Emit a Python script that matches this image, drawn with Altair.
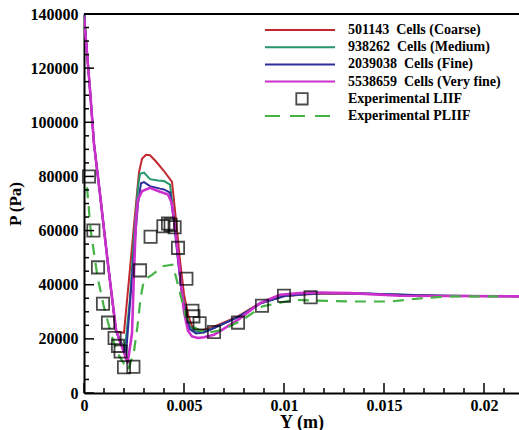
import altair as alt
import pandas as pd

# ---- data -------------------------------------------------------------
series_names = [
    "501143\u00a0 Cells (Coarse)",
    "938262\u00a0 Cells (Medium)",
    "2039038\u00a0 Cells (Fine)",
    "5538659\u00a0 Cells (Very fine)",
    "Experimental LIIF",
    "Experimental PLIIF",
]
series_colors = ["#c2272f", "#24976a", "#2e2e9c", "#cc2fcc", "#000000", "#45b345"]

coarse_y = [0, 0.0003, 0.0005, 0.0008, 0.0012, 0.0016, 0.0020, 0.00225, 0.0025, 0.00275,
            0.0029, 0.0031, 0.0033, 0.0036, 0.0040, 0.0044, 0.0046, 0.0048, 0.0050, 0.0052,
            0.0054, 0.0057, 0.0060, 0.0065, 0.0077, 0.0088, 0.0100, 0.0110, 0.0120, 0.0140,
            0.0160, 0.0180, 0.0218]
coarse_p = [140000, 112000, 92000, 73500, 47500, 22500, 22300, 42000, 62000, 81500,
            86500, 88000, 87800, 85500, 82000, 78000, 64000, 49000, 36500, 29000,
            24500, 23300, 23300, 24500, 28300, 33200, 35700, 36400, 36800, 36700,
            36200, 35800, 35700]

medium_y = [0, 0.0003, 0.0005, 0.0008, 0.0012, 0.0016, 0.0018, 0.00205, 0.0023, 0.0025,
            0.0027, 0.0028, 0.0030, 0.0033, 0.0037, 0.0040, 0.0043, 0.0045, 0.0047, 0.0049,
            0.0051, 0.0053, 0.0056, 0.0060, 0.0065, 0.0077, 0.0088, 0.0100, 0.0110, 0.0120,
            0.0140, 0.0160, 0.0180, 0.0218]
medium_p = [140000, 112000, 92000, 73500, 47500, 23000, 19500, 16500, 35000, 58000,
            76000, 81000, 81400, 79000, 78500, 78300, 77000, 65000, 50000, 37000,
            29000, 24500, 22600, 22800, 24000, 28000, 33000, 35800, 36500, 36900,
            36800, 36300, 35900, 35700]

fine_y = [0, 0.0003, 0.0005, 0.0008, 0.0012, 0.0016, 0.0018, 0.0021, 0.00225, 0.0025,
          0.0027, 0.00285, 0.0030, 0.0033, 0.0038, 0.0040, 0.0043, 0.0045, 0.0047, 0.0049,
          0.0051, 0.0053, 0.0056, 0.0060, 0.0065, 0.0077, 0.0088, 0.0100, 0.0110, 0.0120,
          0.0140, 0.0160, 0.0180, 0.0218]
fine_p = [140000, 112000, 92000, 73500, 47500, 23000, 19000, 14500, 28300, 52000,
          70000, 77500, 77900, 76400, 75500, 75200, 74000, 63000, 49000, 36000,
          28000, 23500, 22000, 22300, 24000, 28000, 33000, 35800, 36500, 36900,
          36800, 36300, 35900, 35700]

vfine_y = [0, 0.0003, 0.0005, 0.0008, 0.0012, 0.0016, 0.0018, 0.0020, 0.00218, 0.0024,
           0.0025, 0.0026, 0.0027, 0.0029, 0.0031, 0.0033, 0.0037, 0.0042, 0.0044, 0.0046,
           0.0048, 0.0050, 0.0052, 0.0054, 0.0057, 0.0060, 0.0065, 0.0077, 0.0088, 0.0098,
           0.0108, 0.0117, 0.0133, 0.0158, 0.0218]
vfine_p = [139000, 112000, 92000, 73500, 47500, 23500, 19000, 15000, 11000, 22000,
           45000, 64000, 71500, 74500, 75200, 75800, 74600, 73300, 70000, 58000,
           44000, 30000, 23000, 20900, 20300, 20600, 21500, 27000, 33200, 36300,
           36900, 37100, 36900, 35900, 35700]

liif_y = [0.00025, 0.00047, 0.0007, 0.00095, 0.0012, 0.00153, 0.0017, 0.00183, 0.0020,
          0.00247, 0.0028, 0.00333, 0.00397, 0.0042, 0.00433, 0.00453, 0.0047, 0.00512,
          0.00542, 0.00547, 0.00578, 0.0065, 0.0077, 0.0089, 0.0100, 0.01133]
liif_p = [80000, 60000, 46400, 33000, 26000, 20300, 17400, 15300, 9500,
          9700, 45300, 57700, 61600, 62600, 62100, 61200, 53600, 42200,
          30400, 28300, 25800, 22500, 26000, 32200, 35900, 35400]

pliif_y = [0.00015, 0.00033, 0.00067, 0.00099, 0.00134, 0.00167, 0.00209, 0.0022, 0.00249,
           0.00267, 0.00284, 0.0030, 0.00342, 0.00392, 0.00442, 0.00459, 0.00484, 0.00509,
           0.00542, 0.00609, 0.00692, 0.00792, 0.00892, 0.01049, 0.01334, 0.01534, 0.0170,
           0.01834, 0.0207]
pliif_p = [76000, 60400, 43100, 32000, 22200, 14800, 9700, 8500, 14800,
           24500, 35700, 41800, 43700, 46800, 47400, 43100, 35700, 28300,
           24600, 22100, 23300, 27000, 32000, 34400, 33800, 33800, 35100,
           35700, 35700]

x_major = [0, 0.005, 0.01, 0.015, 0.02]
x_minor = [0.001, 0.002, 0.003, 0.004, 0.006, 0.007, 0.008, 0.009, 0.011, 0.012,
           0.013, 0.014, 0.016, 0.017, 0.018, 0.019, 0.021]
y_major = [0, 20000, 40000, 60000, 80000, 100000, 120000, 140000]
y_minor = [5000, 10000, 15000, 25000, 30000, 35000, 45000, 50000, 55000, 65000, 70000,
           75000, 85000, 90000, 95000, 105000, 110000, 115000, 125000, 130000, 135000]

# ---- chart ------------------------------------------------------------
FONT = "Liberation Serif"
W, H = 435, 379

x_scale = alt.Scale(domain=[0, 0.02175], nice=False, zero=False)
y_scale = alt.Scale(domain=[0, 140000], nice=False, zero=False)

x_axis = alt.Axis(values=x_major, format="~g", ticks=False, grid=False,
                  domainColor="black", domainWidth=2, labelPadding=4,
                  labelFont=FONT, labelFontWeight="bold", labelFontSize=16,
                  labelColor="black", labelFlush=False, labelOverlap=False,
                  title="Y (m)", titleFont=FONT, titleFontWeight="bold",
                  titleFontSize=18, titleColor="black", titlePadding=0)
y_axis = alt.Axis(values=y_major, format="d", ticks=False, grid=False,
                  domainColor="black", domainWidth=2, labelPadding=6,
                  labelFont=FONT, labelFontWeight="bold", labelFontSize=16,
                  labelColor="black", labelFlush=False, labelOverlap=False,
                  title="P (Pa)", titleFont=FONT, titleFontWeight="bold",
                  titleFontSize=17, titleColor="black", titlePadding=6)

X_ENC = dict(scale=x_scale, axis=x_axis)
Y_ENC = dict(scale=y_scale, axis=y_axis)


def line_layer(ys, ps, color, width, dash=None):
    df = pd.DataFrame({"y": ys, "p": ps})
    kw = dict(color=color, strokeWidth=width, clip=True)
    if dash:
        kw["strokeDash"] = dash
    return alt.Chart(df).mark_line(**kw).encode(
        x=alt.X("y:Q", **X_ENC),
        y=alt.Y("p:Q", **Y_ENC),
    )


lines = [
    line_layer(coarse_y, coarse_p, series_colors[0], 2),
    line_layer(medium_y, medium_p, series_colors[1], 2),
    line_layer(fine_y, fine_p, series_colors[2], 2),
    line_layer(vfine_y, vfine_p, series_colors[3], 2.6),
    line_layer(pliif_y, pliif_p, series_colors[5], 2.2, dash=[11, 8]),
]

squares = alt.Chart(pd.DataFrame({"y": liif_y, "p": liif_p})).mark_point(
    shape="square", filled=False, color="black", size=150, strokeWidth=1.8
).encode(
    x=alt.X("y:Q", **X_ENC),
    y=alt.Y("p:Q", **Y_ENC),
)


# inward-pointing major and minor ticks
def x_ticks(vals, length):
    return alt.Chart(pd.DataFrame({"t": vals})).mark_rule(color="black", strokeWidth=1.5).encode(
        x=alt.X("t:Q", **X_ENC),
        y=alt.value(H), y2=alt.value(H - length),
    )


def y_ticks(vals, length):
    return alt.Chart(pd.DataFrame({"t": vals})).mark_rule(color="black", strokeWidth=1.5).encode(
        y=alt.Y("t:Q", **Y_ENC),
        x=alt.value(0), x2=alt.value(length),
    )


ticks = [x_ticks(x_major, 10), x_ticks(x_minor, 5), y_ticks(y_major, 10), y_ticks(y_minor, 5)]

# top frame edge
top_edge = alt.Chart(pd.DataFrame({"p": [140000]})).mark_rule(color="black", strokeWidth=2).encode(
    y=alt.Y("p:Q", **Y_ENC), x=alt.value(0), x2=alt.value(W)
)

main = alt.layer(*lines, squares, *ticks, top_edge)

# legend panel in the upper right of the plot
legend_df = pd.DataFrame({
    "row": list(range(len(series_names))),
    "label": series_names,
    "col": series_colors,
})
row_y = alt.Y("row:Q", scale=alt.Scale(domain=[0, 5], range=[16, 102]), axis=None)

leg_lines = alt.Chart(legend_df).transform_filter("datum.row < 4").mark_rule(strokeWidth=2).encode(
    x=alt.value(181), x2=alt.value(251), y=row_y, color=alt.Color("col:N", scale=None)
)
leg_dash = alt.Chart(legend_df).transform_filter("datum.row == 5").mark_rule(
    strokeWidth=2.2, strokeDash=[15, 10], color=series_colors[5]
).encode(x=alt.value(181), x2=alt.value(253), y=row_y)
leg_square = alt.Chart(legend_df).transform_filter("datum.row == 4").mark_point(
    shape="square", filled=False, color="black", size=130, strokeWidth=1.8
).encode(x=alt.value(218), y=row_y)
leg_text = alt.Chart(legend_df).mark_text(
    align="left", baseline="middle", font=FONT, fontWeight="bold", fontSize=14, color="black"
).encode(x=alt.value(264), y=row_y, text="label:N")

legend = alt.layer(leg_lines, leg_dash, leg_square, leg_text)

chart = alt.layer(main, legend).resolve_scale(y="independent").properties(
    width=W, height=H,
    autosize=alt.AutoSizeParams(type="none"),
    padding={"left": 84, "top": 14, "right": 0, "bottom": 37},
    background="white",
).configure_view(strokeWidth=0)

chart.save("out.html", embed_options={"renderer": "svg", "actions": False})
